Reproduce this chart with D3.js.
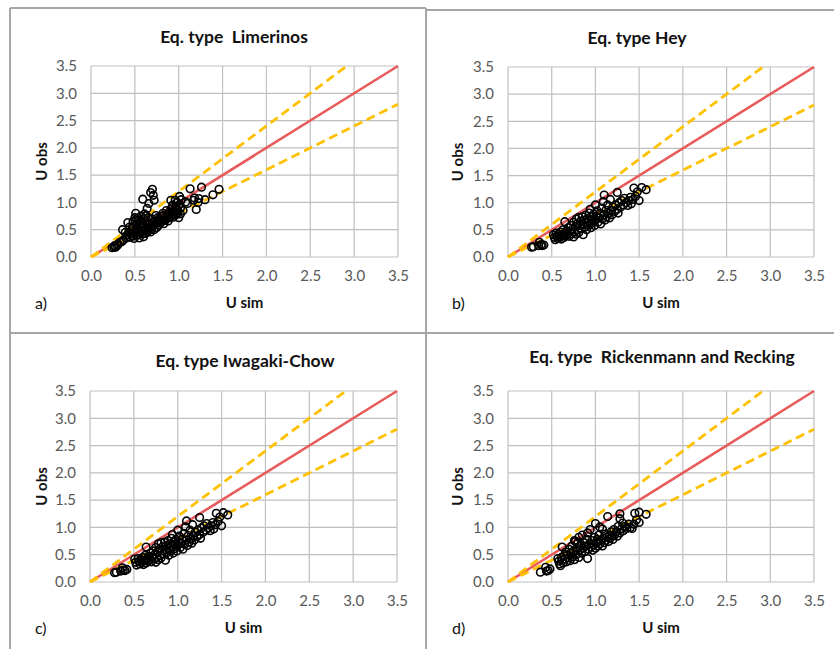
<!DOCTYPE html>
<html>
<head>
<meta charset="utf-8">
<script src="https://cdn.jsdelivr.net/npm/d3@7"></script>
<style>
  body { margin: 0; background: #fff; }
  text { font-family: Lato, "Open Sans", sans-serif; }
</style>
</head>
<body>
<div id="chart"></div>
<script>
// Axis ticks (same on both axes)
var ticks = [0, 0.5, 1.0, 1.5, 2.0, 2.5, 3.0, 3.5];

// Reference lines: slope of perfect fit and the +/-20% band
var perfectSlope = 1.0;
var bandSlopes = [1.2, 0.8];

// Panel titles and letters
var titles = ["Eq. type  Limerinos", "Eq. type Hey", "Eq. type Iwagaki-Chow", "Eq. type  Rickenmann and Recking"];
var letters = ["a)", "b)", "c)", "d)"];

// [U sim, U obs]
var limerinos = [
  [0.24,0.17],[0.26,0.18],[0.28,0.18],[0.27,0.21],[0.30,0.21],[0.31,0.24],[0.33,0.27],[0.35,0.28],
  [0.37,0.31],[0.36,0.50],[0.40,0.35],[0.41,0.40],[0.42,0.63],[0.44,0.36],[0.45,0.42],[0.46,0.48],
  [0.47,0.55],[0.48,0.65],[0.48,0.38],[0.49,0.34],[0.50,0.45],[0.50,0.72],[0.51,0.80],[0.52,0.60],
  [0.53,0.40],[0.53,0.52],[0.54,0.68],[0.55,0.35],[0.55,0.58],[0.56,0.47],[0.57,0.75],[0.58,0.42],
  [0.58,0.62],[0.59,1.06],[0.60,0.37],[0.60,0.55],[0.61,0.79],[0.62,0.48],[0.62,0.66],[0.63,0.44],
  [0.64,0.89],[0.64,0.58],[0.65,0.72],[0.66,0.98],[0.66,0.52],[0.67,0.62],[0.68,1.18],[0.68,0.46],
  [0.69,0.70],[0.70,1.24],[0.70,0.56],[0.71,1.13],[0.71,0.64],[0.72,1.04],[0.72,0.50],[0.73,0.60],
  [0.74,0.76],[0.75,0.54],[0.76,0.66],[0.77,0.58],[0.78,0.70],[0.79,0.62],[0.80,0.75],[0.81,0.65],
  [0.82,0.80],[0.83,0.61],[0.84,0.72],[0.85,0.68],[0.86,0.85],[0.87,0.74],[0.88,0.66],[0.89,0.80],
  [0.90,0.72],[0.91,1.04],[0.91,0.88],[0.92,0.76],[0.93,0.95],[0.94,0.73],[0.95,0.83],[0.96,1.04],
  [0.96,0.90],[0.97,0.78],[0.98,1.00],[0.99,0.85],[1.00,0.72],[1.00,0.95],[1.01,1.11],[1.02,0.79],
  [1.02,0.90],[1.03,1.05],[1.05,0.85],[1.08,1.01],[1.10,0.98],[1.13,1.25],[1.17,1.04],[1.18,1.08],
  [1.20,0.87],[1.22,1.00],[1.23,1.07],[1.26,1.28],[1.30,1.05],[1.39,1.14],[1.46,1.24],
  [0.43,0.45],[0.47,0.39],[0.51,0.50],[0.54,0.44],[0.57,0.53],[0.59,0.48],[0.61,0.43],[0.63,0.53],
  [0.65,0.47],[0.67,0.55],[0.69,0.52],[0.71,0.58],[0.74,0.62],[0.76,0.72],[0.78,0.64],[0.80,0.68],
  [0.83,0.76],[0.86,0.70],[0.88,0.78],[0.90,0.82],[0.93,0.80],[0.95,0.77],[0.97,0.92],[0.99,0.80],
  [0.52,0.70],[0.56,0.66],[0.60,0.70],[0.63,0.76],[0.44,0.55],[0.39,0.45]
];

var hey = [
  [0.27,0.18],[0.29,0.19],[0.35,0.21],[0.36,0.27],[0.38,0.23],[0.39,0.21],[0.41,0.22],
  [0.52,0.41],[0.53,0.36],[0.54,0.32],[0.55,0.44],[0.56,0.39],[0.57,0.34],[0.58,0.42],[0.59,0.37],
  [0.60,0.46],[0.61,0.33],[0.62,0.40],[0.63,0.50],[0.64,0.36],[0.65,0.65],[0.65,0.44],[0.66,0.39],
  [0.67,0.48],[0.68,0.42],[0.69,0.54],[0.70,0.38],[0.71,0.47],[0.72,0.58],[0.73,0.43],[0.74,0.52],
  [0.75,0.64],[0.75,0.37],[0.76,0.46],[0.77,0.56],[0.78,0.70],[0.78,0.42],[0.79,0.61],[0.80,0.50],
  [0.81,0.73],[0.81,0.45],[0.82,0.58],[0.83,0.66],[0.84,0.52],[0.85,0.74],[0.86,0.41],[0.86,0.60],
  [0.87,0.68],[0.88,0.55],[0.89,0.77],[0.90,0.63],[0.90,0.50],[0.91,0.71],[0.92,0.58],[0.93,0.81],
  [0.93,0.66],[0.94,0.88],[0.95,0.54],[0.95,0.74],[0.96,0.62],[0.97,0.70],[0.98,0.79],[0.99,0.58],
  [1.00,0.96],[1.00,0.68],[1.01,0.75],[1.02,0.85],[1.03,0.64],[1.04,0.72],[1.05,0.80],[1.06,0.61],
  [1.07,0.90],[1.08,0.70],[1.09,1.02],[1.10,1.14],[1.10,0.78],[1.11,0.68],[1.12,0.86],[1.13,0.74],
  [1.14,0.96],[1.15,0.80],[1.16,0.72],[1.17,1.06],[1.18,0.86],[1.19,0.78],[1.20,0.92],[1.22,0.84],
  [1.23,0.96],[1.25,1.19],[1.25,0.88],[1.26,0.81],[1.27,1.00],[1.29,0.92],[1.30,1.04],[1.32,0.96],
  [1.33,1.08],[1.35,1.00],[1.37,0.95],[1.38,1.04],[1.40,1.10],[1.41,0.98],[1.43,1.06],[1.44,1.27],
  [1.46,1.12],[1.48,1.20],[1.50,1.04],[1.53,1.28],[1.58,1.24]
];

var iwagakiChow = [
  [0.28,0.17],[0.30,0.18],[0.35,0.20],[0.37,0.26],[0.38,0.22],[0.40,0.21],[0.42,0.23],
  [0.51,0.42],[0.52,0.36],[0.53,0.31],[0.55,0.43],[0.56,0.38],[0.57,0.33],[0.58,0.41],[0.59,0.36],
  [0.60,0.45],[0.61,0.32],[0.62,0.39],[0.63,0.49],[0.64,0.35],[0.64,0.64],[0.65,0.43],[0.66,0.38],
  [0.67,0.47],[0.68,0.41],[0.69,0.53],[0.70,0.37],[0.71,0.46],[0.72,0.57],[0.73,0.42],[0.74,0.51],
  [0.75,0.63],[0.75,0.36],[0.76,0.45],[0.77,0.55],[0.78,0.70],[0.78,0.41],[0.79,0.60],[0.80,0.49],
  [0.81,0.72],[0.81,0.44],[0.82,0.57],[0.83,0.65],[0.84,0.51],[0.85,0.73],[0.86,0.40],[0.86,0.59],
  [0.87,0.67],[0.88,0.54],[0.89,0.76],[0.90,0.62],[0.90,0.49],[0.91,0.70],[0.92,0.57],[0.93,0.80],
  [0.93,0.65],[0.94,0.87],[0.95,0.53],[0.95,0.73],[0.96,0.61],[0.97,0.69],[0.98,0.78],[0.99,0.57],
  [1.00,0.95],[1.00,0.67],[1.01,0.74],[1.02,0.84],[1.03,0.63],[1.04,0.71],[1.05,0.79],[1.06,0.60],
  [1.07,0.89],[1.08,0.69],[1.09,1.01],[1.10,1.12],[1.10,0.77],[1.11,0.67],[1.12,0.85],[1.13,0.73],
  [1.14,0.95],[1.15,0.79],[1.16,0.71],[1.17,1.05],[1.18,0.85],[1.19,0.77],[1.20,0.91],[1.22,0.83],
  [1.23,0.95],[1.25,1.18],[1.25,0.87],[1.26,0.80],[1.27,0.99],[1.29,0.91],[1.30,1.03],[1.32,0.95],
  [1.33,1.07],[1.35,0.99],[1.37,0.94],[1.38,1.03],[1.40,1.09],[1.41,0.97],[1.43,1.05],[1.44,1.26],
  [1.46,1.11],[1.48,1.19],[1.50,1.03],[1.52,1.27],[1.57,1.23]
];

var rickenmannRecking = [
  [0.37,0.18],[0.43,0.27],[0.44,0.20],[0.46,0.21],[0.48,0.24],
  [0.57,0.43],[0.58,0.38],[0.59,0.33],[0.60,0.30],[0.61,0.45],[0.62,0.40],[0.62,0.64],[0.63,0.35],
  [0.64,0.48],[0.65,0.42],[0.66,0.55],[0.67,0.37],[0.68,0.50],[0.69,0.44],[0.70,0.60],[0.71,0.39],
  [0.72,0.53],[0.73,0.66],[0.74,0.46],[0.75,0.57],[0.76,0.76],[0.76,0.41],[0.77,0.74],[0.78,0.50],
  [0.79,0.62],[0.80,0.72],[0.81,0.82],[0.81,0.45],[0.82,0.58],[0.83,0.67],[0.84,0.53],[0.85,0.86],
  [0.86,0.62],[0.87,0.72],[0.88,0.56],[0.89,0.66],[0.90,0.78],[0.91,0.90],[0.91,0.43],[0.92,0.60],
  [0.93,0.70],[0.94,0.96],[0.95,0.64],[0.96,0.76],[0.97,0.58],[0.98,0.68],[0.99,0.82],[1.00,1.07],
  [1.00,0.62],[1.01,0.72],[1.02,0.78],[1.03,0.66],[1.04,0.86],[1.05,1.01],[1.05,0.70],[1.06,0.76],
  [1.08,0.97],[1.08,0.66],[1.09,0.80],[1.10,0.72],[1.11,0.88],[1.12,0.76],[1.13,0.82],[1.14,1.20],
  [1.15,0.74],[1.16,0.86],[1.17,0.80],[1.18,0.92],[1.19,0.84],[1.20,0.78],[1.21,0.96],[1.22,0.86],
  [1.24,0.92],[1.25,0.84],[1.26,1.02],[1.28,1.25],[1.28,1.16],[1.28,0.90],[1.30,0.98],[1.31,1.08],
  [1.32,0.94],[1.34,1.02],[1.36,0.98],[1.38,1.06],[1.40,1.00],[1.42,0.98],[1.44,1.06],[1.45,1.26],
  [1.47,1.14],[1.50,1.28],[1.50,1.09],[1.58,1.24]
];

var series = [limerinos, hey, iwagakiChow, rickenmannRecking];

var W = 834, H = 649;
var svg = d3.select("#chart").append("svg")
  .attr("width", W)
  .attr("height", H);

// Panel frames (the picture is a crop of a 2x2 grid of Excel charts)
var frameColor = "#a6a6a6";
var frame = svg.append("g").attr("stroke", frameColor).attr("stroke-width", 2).attr("fill", "none");
frame.append("line").attr("x1", 10).attr("y1", 8).attr("x2", 426).attr("y2", 8);
frame.append("line").attr("x1", 426).attr("y1", 10).attr("x2", W).attr("y2", 10);
frame.append("line").attr("x1", 10).attr("y1", 8).attr("x2", 10).attr("y2", H);
frame.append("line").attr("x1", 426).attr("y1", 8).attr("x2", 426).attr("y2", H);
frame.append("line").attr("x1", 10).attr("y1", 333).attr("x2", W).attr("y2", 333);

// Plot rectangles for each panel
var panels = [
  { left: 91,  right: 398, top: 66,  bottom: 257, titleX: 234, titleY: 43,  yLabX: 42,  letX: 35 },
  { left: 508, right: 814, top: 67,  bottom: 257, titleX: 637, titleY: 44,  yLabX: 458, letX: 452 },
  { left: 90,  right: 397, top: 391, bottom: 582, titleX: 245, titleY: 367, yLabX: 42,  letX: 35 },
  { left: 508, right: 814, top: 391, bottom: 582, titleX: 662, titleY: 363, yLabX: 458, letX: 452 }
];

panels.forEach(function(p, i) {
  var g = svg.append("g");

  // Create scale function
  var xScale = d3.scaleLinear().domain([0, 3.5]).range([p.left, p.right]);
  var yScale = d3.scaleLinear().domain([0, 3.5]).range([p.bottom, p.top]);

  // Gridlines
  g.append("g").selectAll("line.vx").data(ticks).enter().append("line")
    .attr("x1", function(d) { return xScale(d); })
    .attr("x2", function(d) { return xScale(d); })
    .attr("y1", p.top).attr("y2", p.bottom)
    .attr("stroke", "#c0c0c0").attr("stroke-width", 1.2);
  g.append("g").selectAll("line.hy").data(ticks).enter().append("line")
    .attr("y1", function(d) { return yScale(d); })
    .attr("y2", function(d) { return yScale(d); })
    .attr("x1", p.left).attr("x2", p.right)
    .attr("stroke", "#c0c0c0").attr("stroke-width", 1.2);

  // Axes (labels only)
  var xAxis = d3.axisBottom(xScale).tickValues(ticks).tickFormat(d3.format(".1f")).tickSize(0).tickPadding(13);
  var yAxis = d3.axisLeft(yScale).tickValues(ticks).tickFormat(d3.format(".1f")).tickSize(0).tickPadding(14);
  var gx = g.append("g").attr("transform", "translate(0," + p.bottom + ")").call(xAxis);
  var gy = g.append("g").attr("transform", "translate(" + p.left + ",0)").call(yAxis);
  [gx, gy].forEach(function(a) {
    a.select(".domain").remove();
    a.selectAll("text").attr("font-family", "Lato, 'Open Sans', sans-serif").attr("font-size", 15).attr("fill", "#595959");
  });

  // Reference lines (under the points)
  g.append("line")
    .attr("x1", xScale(0)).attr("y1", yScale(0))
    .attr("x2", xScale(3.5)).attr("y2", yScale(3.5 * perfectSlope))
    .attr("stroke", "#e95a5a").attr("stroke-width", 2.6);
  bandSlopes.forEach(function(s) {
    var xEnd = Math.min(3.5, 3.5 / s);
    g.append("line")
      .attr("x1", xScale(0)).attr("y1", yScale(0))
      .attr("x2", xScale(xEnd)).attr("y2", yScale(xEnd * s))
      .attr("stroke", "#ffc000").attr("stroke-width", 2.8)
      .attr("stroke-dasharray", "9,5");
  });

  // Scatter points
  g.append("g").selectAll("circle").data(series[i]).enter().append("circle")
    .attr("cx", function(d) { return xScale(d[0]); })
    .attr("cy", function(d) { return yScale(d[1]); })
    .attr("r", 3.8)
    .attr("fill", "none")
    .attr("stroke", "#000")
    .attr("stroke-width", 1.6);

  // Titles and axis labels
  g.append("text")
    .attr("x", p.titleX).attr("y", p.titleY)
    .attr("text-anchor", "middle")
    .attr("font-size", 17.5).attr("font-weight", "bold").attr("fill", "#111")
    .style("white-space", "pre")
    .text(titles[i]);
  g.append("text")
    .attr("x", (p.left + p.right) / 2).attr("y", p.bottom + 51)
    .attr("text-anchor", "middle")
    .attr("font-size", 15).attr("font-weight", "bold").attr("fill", "#111")
    .text("U sim");
  g.append("text")
    .attr("transform", "translate(" + (p.yLabX + 5) + "," + ((p.top + p.bottom) / 2) + ") rotate(-90)")
    .attr("text-anchor", "middle")
    .attr("font-size", 15).attr("font-weight", "bold").attr("fill", "#111")
    .text("U obs");
  g.append("text")
    .attr("x", p.letX).attr("y", p.bottom + 52)
    .attr("font-size", 16).attr("fill", "#111")
    .text(letters[i]);
});
</script>
</body>
</html>
